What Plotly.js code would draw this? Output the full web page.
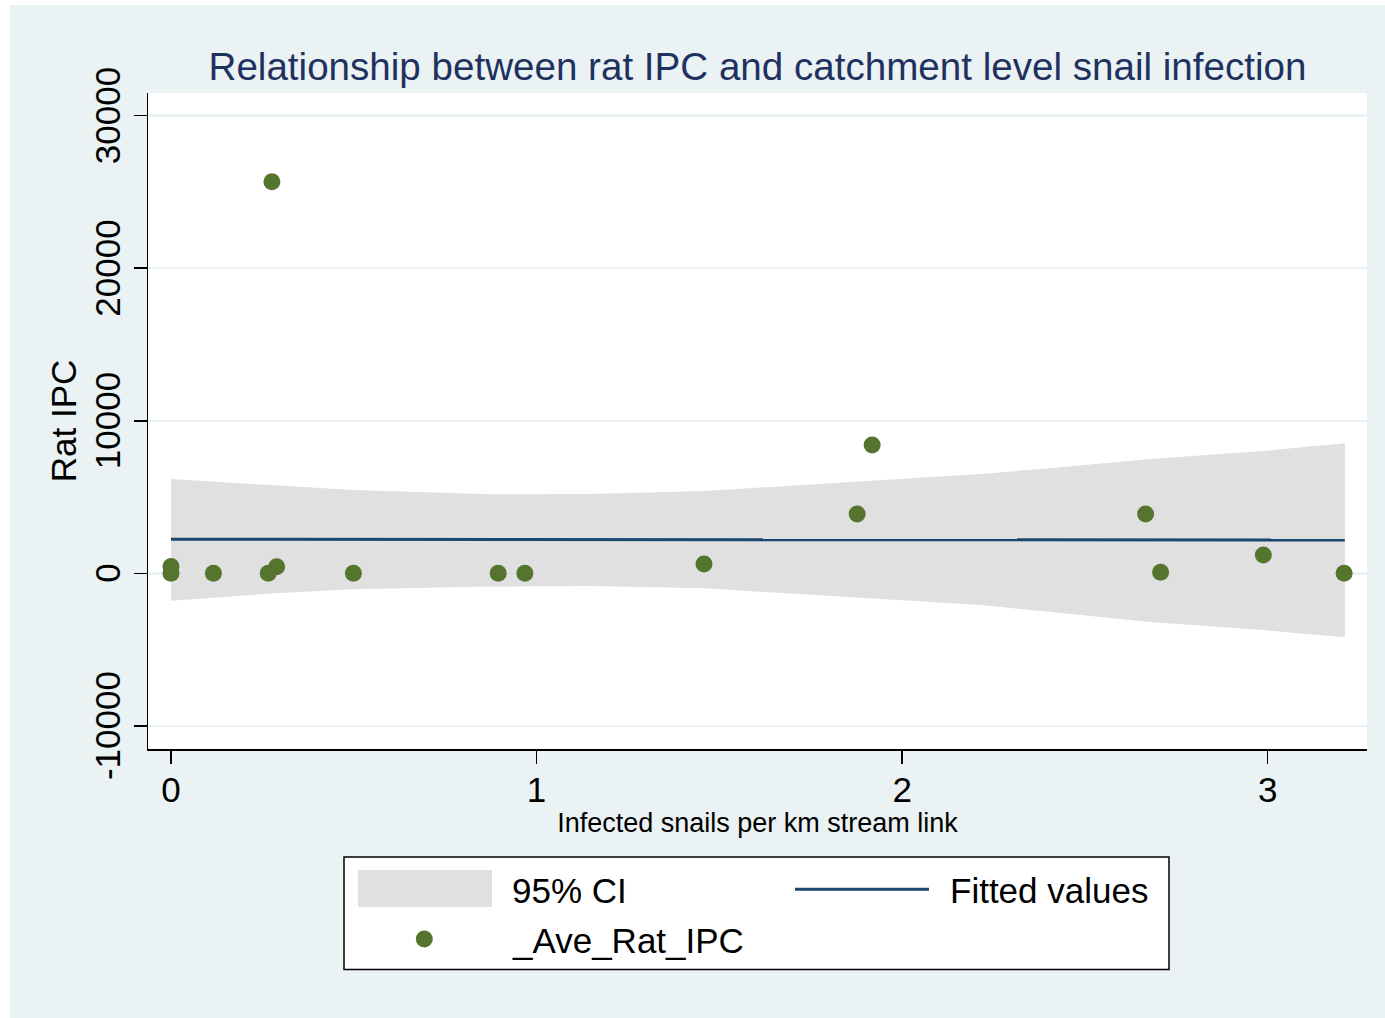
<!DOCTYPE html>
<html>
<head>
<meta charset="utf-8">
<script src="https://cdn.plot.ly/plotly-3.0.1.min.js"></script>
<style>
  html, body { margin: 0; padding: 0; background: #ffffff; }
  #chart { position: absolute; left: 10px; top: 5px; width: 1375px; height: 1013px; }
</style>
</head>
<body>
<div id="chart"></div>
<script>
// ---- Data ----
const snailsPerKm = [0, 0, 0.116, 0.266, 0.289, 0.276, 0.499, 0.895, 0.968, 1.458, 1.877, 1.918, 2.666, 2.707, 2.988, 3.209];
const ratIPC      = [450, 0, 0, 0, 430, 25670, 0, 0, 0, 610, 3890, 8410, 3890, 70, 1200, 0];

const fitX     = [0, 0.284, 0.498, 0.873, 1.146, 1.461, 2.213, 2.404, 2.670, 2.987, 3.211];
const fitted   = [2230, 2228, 2222, 2215, 2210, 2205, 2200, 2197, 2192, 2186, 2180];
const ciUpper  = [6180, 5790, 5460, 5180, 5200, 5400, 6510, 6880, 7470, 8020, 8520];
const ciLower  = [-1800, -1310, -1050, -865, -835, -985, -2080, -2520, -3170, -3720, -4200];

const xTicks = [0, 1, 2, 3];
const yTicks = [-10000, 0, 10000, 20000, 30000];
const yTickLabels = ['-10000', '0', '10000', '20000', '30000'];

const titleText = 'Relationship between rat IPC and catchment level snail infection';
const xTitle = 'Infected snails per km stream link';
const yTitle = 'Rat IPC';
const legendLabels = ['95% CI', 'Fitted values', '_Ave_Rat_IPC'];

// ---- Styling ----
const FONT = 'Liberation Sans, Arial, Helvetica, sans-serif';
const BG = '#eaf2f3';
const NAVY = '#1a476f';
const GREEN = '#55752f';
const CIGRAY = '#e0e0e0';

const W = 1375, H = 1013, OFFX = 10, OFFY = 5;
const M = { l: 138, r: 18, t: 88, b: 269 };
const PW = W - M.l - M.r, PH = H - M.t - M.b;
// page pixel -> paper coordinates (for legend decorations only)
const px = v => (v - OFFX - M.l) / PW;
const py = v => 1 - (v - OFFY - M.t) / PH;

const traces = [
  {
    x: fitX.concat(fitX.slice().reverse()),
    y: ciUpper.concat(ciLower.slice().reverse()),
    type: 'scatter', mode: 'lines', fill: 'toself',
    fillcolor: CIGRAY, line: { width: 0, color: CIGRAY },
    name: legendLabels[0], hoverinfo: 'skip'
  },
  {
    x: fitX, y: fitted, type: 'scatter', mode: 'lines',
    line: { color: NAVY, width: 3 }, name: legendLabels[1]
  },
  {
    x: snailsPerKm, y: ratIPC, type: 'scatter', mode: 'markers',
    marker: { color: GREEN, size: 17 }, name: legendLabels[2]
  }
];

const shapes = [
  { type: 'rect', xref: 'paper', yref: 'paper', x0: px(344), x1: px(1169), y0: py(857), y1: py(969.5),
    line: { color: '#000', width: 1.5 }, fillcolor: '#ffffff', layer: 'above' },
  { type: 'rect', xref: 'paper', yref: 'paper', x0: px(358), x1: px(492), y0: py(870), y1: py(907),
    line: { width: 0 }, fillcolor: CIGRAY, layer: 'above' },
  { type: 'line', xref: 'paper', yref: 'paper', x0: px(795), x1: px(929), y0: py(889.3), y1: py(889.3),
    line: { color: NAVY, width: 3 }, layer: 'above' },
  { type: 'circle', xref: 'paper', yref: 'paper', x0: px(415.8), x1: px(432.8), y0: py(930.5), y1: py(947.5),
    line: { width: 0 }, fillcolor: GREEN, layer: 'above' }
];

const legFont = { family: FONT, size: 35, color: '#000' };
const annotations = [
  { xref: 'paper', yref: 'paper', x: px(510), y: py(890), xanchor: 'left', yanchor: 'middle',
    text: legendLabels[0], showarrow: false, font: legFont },
  { xref: 'paper', yref: 'paper', x: px(948), y: py(890), xanchor: 'left', yanchor: 'middle',
    text: legendLabels[1], showarrow: false, font: legFont },
  { xref: 'paper', yref: 'paper', x: px(510), y: py(940), xanchor: 'left', yanchor: 'middle',
    text: legendLabels[2], showarrow: false, font: legFont }
];

const layout = {
  width: W, height: H,
  paper_bgcolor: BG, plot_bgcolor: '#ffffff',
  margin: M,
  showlegend: false,
  font: { family: FONT, color: '#000' },
  title: {
    text: titleText, x: 0.5, xref: 'paper', xanchor: 'center',
    y: 1 - 61 / H, yref: 'container', yanchor: 'middle',
    font: { family: FONT, size: 38.6, color: '#1f325f' }
  },
  xaxis: {
    range: [(148 - 171) / 365.57, (1367 - 171) / 365.57],
    tickvals: xTicks, ticktext: xTicks.map(String),
    ticks: 'outside', ticklen: 13, tickwidth: 1.5, tickcolor: '#000',
    ticklabelstandoff: -4,
    showline: true, linecolor: '#000', linewidth: 1.5,
    showgrid: false, zeroline: false,
    tickfont: { family: FONT, size: 35, color: '#000' },
    title: { text: xTitle, font: { family: FONT, size: 27, color: '#000' }, standoff: 0 }
  },
  yaxis: {
    range: [-11519, 31489],
    tickvals: yTicks, ticktext: yTickLabels, tickangle: -90,
    ticklabelshift: 5,
    ticks: 'outside', ticklen: 13, tickwidth: 1.5, tickcolor: '#000',
    showline: true, linecolor: '#000', linewidth: 1.5,
    showgrid: true, gridcolor: BG, gridwidth: 2.5, zeroline: false,
    tickfont: { family: FONT, size: 35, color: '#000' },
    title: { text: yTitle, font: { family: FONT, size: 35, color: '#000' }, standoff: 0 }
  },
  shapes: shapes,
  annotations: annotations
};

Plotly.newPlot('chart', traces, layout, { displayModeBar: false, staticPlot: true });
</script>
</body>
</html>
